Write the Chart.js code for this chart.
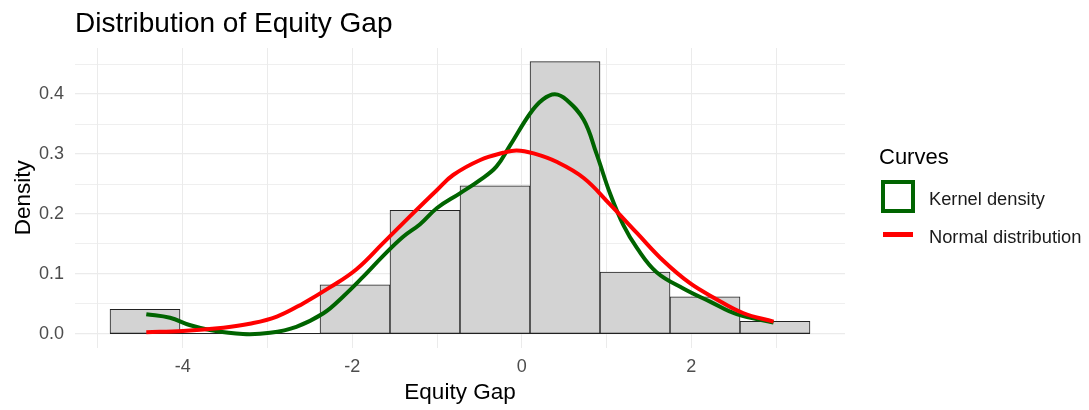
<!DOCTYPE html>
<html>
<head>
<meta charset="utf-8">
<script src="https://cdn.jsdelivr.net/npm/chart.js@4/dist/chart.umd.min.js"></script>
<style>
  html, body { margin: 0; padding: 0; background: #fff; }
  #wrap { position: relative; width: 1089px; height: 410px; font-family: "Liberation Sans", Arial, sans-serif; }
  #chart { position: absolute; left: 0; top: 0; }
  .legend-title { position: absolute; left: 879px; top: 144px; font-size: 22px; line-height: 26px; color: #000; }
  .legend-label { position: absolute; left: 929px; font-size: 18.3px; line-height: 22px; color: #1a1a1a; white-space: nowrap; }
  .key-box { position: absolute; left: 881px; top: 180px; width: 34px; height: 33px; border: 4px solid #006400; box-sizing: border-box; }
  .key-line { position: absolute; left: 883px; top: 232px; width: 30px; height: 4.5px; background: #ff0000; }
</style>
</head>
<body>
<div id="wrap">
  <canvas id="chart" width="1089" height="410"></canvas>
  <div class="legend-title">Curves</div>
  <div class="key-box"></div>
  <div class="legend-label" style="top:188px">Kernel density</div>
  <div class="key-line"></div>
  <div class="legend-label" style="top:226px">Normal distribution</div>
</div>
<script>
// ---------- Data ----------
const BIN_EDGES = [-4.858, -4.032, -3.206, -2.380, -1.555, -0.729, 0.097, 0.923, 1.749, 2.574, 3.400];
const BIN_DENSITY = [0.041, 0, 0, 0.082, 0.206, 0.247, 0.454, 0.103, 0.062, 0.021];

const KDE_X = [-4.43, -4.15, -3.92, -3.68, -3.29, -2.97, -2.66, -2.34, -2.11, -1.87, -1.63, -1.40, -1.20, -1.00, -0.73,
  -0.49, -0.30, -0.14, 0.10, 0.25, 0.39, 0.53, 0.73, 0.88, 1.04, 1.20, 1.36, 1.59, 1.905, 2.22, 2.535, 2.97];
const KDE_Y = [0.033, 0.027, 0.015, 0.0067, 0.0, 0.002, 0.012, 0.0345, 0.062, 0.0955, 0.131, 0.162, 0.183, 0.210, 0.2345,
  0.257, 0.279, 0.314, 0.368, 0.391, 0.3995, 0.39, 0.357, 0.301, 0.2345, 0.181, 0.143, 0.103, 0.076, 0.054, 0.033, 0.019];

const NORM_X = [-4.43, -4.00, -3.52, -3.21, -2.89, -2.58, -2.26, -1.95, -1.64, -1.32, -1.00, -0.81, -0.49,
  -0.22, -0.06, 0.14, 0.41, 0.73, 1.04, 1.36, 1.67, 1.98, 2.26, 2.61, 2.97];
const NORM_Y = [0.003, 0.005, 0.0105, 0.017, 0.029, 0.051, 0.078, 0.108, 0.151, 0.196, 0.240, 0.265, 0.290,
  0.302, 0.306, 0.301, 0.287, 0.260, 0.216, 0.168, 0.122, 0.085, 0.061, 0.035, 0.0205];

const X_TICKS = [-5, -4, -3, -2, -1, 0, 1, 2, 3];
const X_LABELED = [-4, -2, 0, 2];
const Y_TICKS = [0, 0.05, 0.1, 0.15, 0.2, 0.25, 0.3, 0.35, 0.4, 0.45];

// ggplot-style 5% expansion around the data range
const X_MIN = -5.271, X_MAX = 3.813;
const Y_MIN = -0.0227, Y_MAX = 0.4767;

const FONT = '"Liberation Sans", Arial, sans-serif';
const GRID = '#ebebeb';

const histPoints = BIN_DENSITY.map((d, i) => ({ x: (BIN_EDGES[i] + BIN_EDGES[i + 1]) / 2, y: d }));
const kdePoints = KDE_X.map((x, i) => ({ x, y: KDE_Y[i] }));
const normPoints = NORM_X.map((x, i) => ({ x, y: NORM_Y[i] }));

const isMajorY = (v) => Math.abs(v * 10 - Math.round(v * 10)) < 1e-6;

// black outline along the base of the histogram (shows under the empty bins)
const baseLine = {
  id: 'baseLine',
  beforeDatasetsDraw(chart) {
    const { ctx, scales: { x, y } } = chart;
    const py = Math.round(y.getPixelForValue(0)) - 0.5;
    ctx.save();
    ctx.strokeStyle = '#222';
    ctx.lineWidth = 1;
    ctx.beginPath();
    ctx.moveTo(x.getPixelForValue(BIN_EDGES[0]), py);
    ctx.lineTo(x.getPixelForValue(BIN_EDGES[BIN_EDGES.length - 1]), py);
    ctx.stroke();
    ctx.restore();
  }
};

new Chart(document.getElementById('chart'), {
  type: 'bar',
  data: {
    datasets: [
      {
        type: 'line',
        label: 'Normal distribution',
        data: normPoints,
        borderColor: '#ff0000',
        borderWidth: 4,
        pointRadius: 0,
        tension: 0.4,
        order: 1
      },
      {
        type: 'line',
        label: 'Kernel density',
        data: kdePoints,
        borderColor: '#006400',
        borderWidth: 4,
        pointRadius: 0,
        tension: 0.4,
        order: 2
      },
      {
        type: 'bar',
        label: 'Histogram',
        data: histPoints,
        backgroundColor: '#d3d3d3',
        borderColor: '#222',
        borderWidth: 1,
        borderSkipped: false,
        barPercentage: 1,
        categoryPercentage: 1,
        order: 3
      }
    ]
  },
  options: {
    responsive: false,
    animation: false,
    layout: { padding: { left: 0, right: 244, top: 0, bottom: 0 } },
    plugins: {
      legend: { display: false },
      tooltip: { enabled: false },
      title: {
        display: true,
        text: 'Distribution of Equity Gap',
        align: 'start',
        fullSize: false,
        color: '#000',
        font: { family: FONT, size: 28, weight: 'normal', lineHeight: 1.2 },
        padding: { top: 7, bottom: 7.4 }
      }
    },
    scales: {
      x: {
        type: 'linear',
        min: X_MIN,
        max: X_MAX,
        offset: false,
        afterFit: (s) => { s.height = 62.4; },
        afterBuildTicks: (s) => { s.ticks = X_TICKS.map(v => ({ value: v })); },
        border: { display: false },
        grid: { color: GRID, lineWidth: 1, drawTicks: false, offset: false },
        ticks: {
          padding: 9,
          color: '#4d4d4d',
          font: { family: FONT, size: 18 },
          maxRotation: 0,
          autoSkip: false,
          callback: (v) => X_LABELED.includes(v) ? String(v) : ''
        },
        title: {
          display: true,
          text: 'Equity Gap',
          color: '#000',
          font: { family: FONT, size: 22.5, lineHeight: 1.2 },
          padding: { top: 0, bottom: 4 }
        }
      },
      y: {
        min: Y_MIN,
        max: Y_MAX,
        afterFit: (s) => { s.width = 75; },
        afterBuildTicks: (s) => { s.ticks = Y_TICKS.map(v => ({ value: v })); },
        border: { display: false },
        grid: {
          drawTicks: false,
          color: GRID,
          lineWidth: (c) => isMajorY(c.tick.value) ? 1.2 : 0.8
        },
        ticks: {
          padding: 11,
          color: '#4d4d4d',
          font: { family: FONT, size: 18 },
          autoSkip: false,
          callback: (v) => isMajorY(v) ? v.toFixed(1) : ''
        },
        title: {
          display: true,
          text: 'Density',
          color: '#000',
          font: { family: FONT, size: 22.5, lineHeight: 1.2 },
          padding: { top: 10, bottom: 0 }
        }
      }
    }
  },
  plugins: [baseLine]
});
</script>
</body>
</html>
